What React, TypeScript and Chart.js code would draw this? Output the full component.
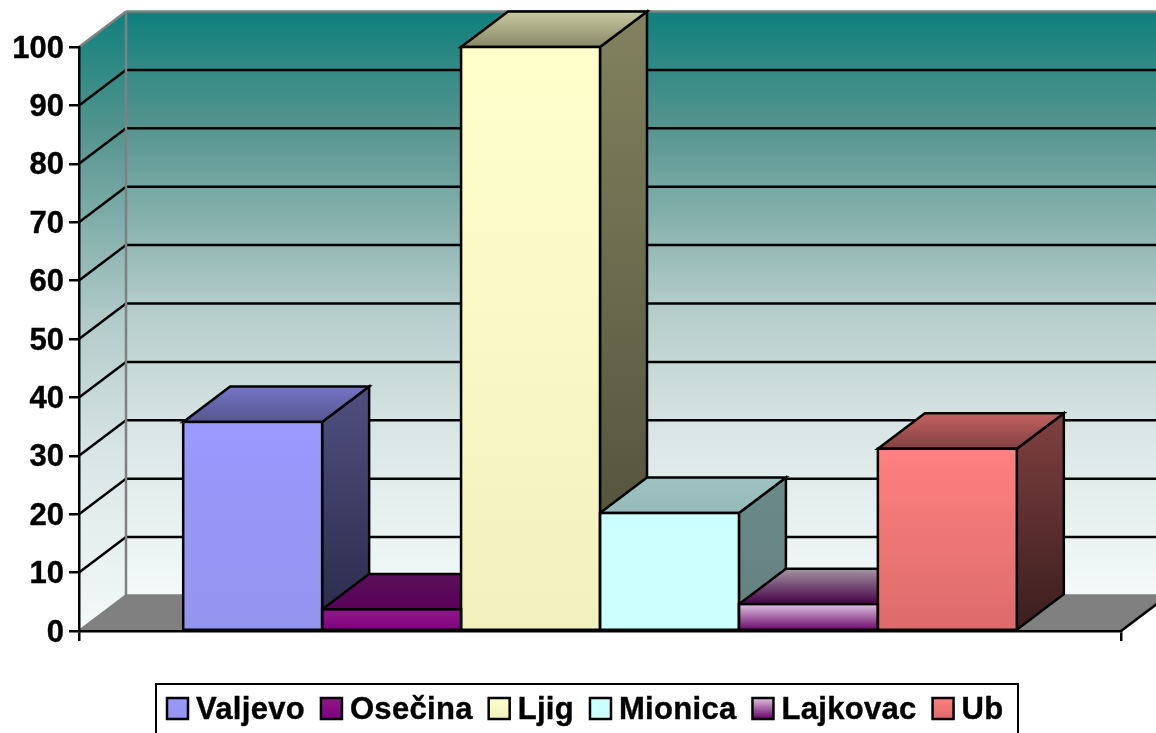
import React, { useEffect, useRef } from "react";
import { Chart, registerables } from "chart.js";

Chart.register(...registerables);

const categories = [""];
const seriesNames = ["Valjevo", "Osečina", "Ljig", "Mionica", "Lajkovac", "Ub"];
const valjevo = [35.8];
const osecina = [3.7];
const ljig = [100];
const mionica = [20.2];
const lajkovac = [4.6];
const ub = [31.2];
const seriesValues = [valjevo, osecina, ljig, mionica, lajkovac, ub];

const frontColors = [
  ["#9999ff", "#9494ee"],
  ["#8f1a87", "#800080"],
  ["#ffffcc", "#f3f0bf"],
  ["#ccffff", "#ccffff"],
  ["#dfc4df", "#660066"],
  ["#ff8080", "#dc6b6b"],
];
const sideColors = [
  ["#50507f", "#2a2a4a"],
  ["#400040", "#300030"],
  ["#82825f", "#4b4b38"],
  ["#6b8a8a", "#667f7f"],
  ["#6f5a6f", "#440044"],
  ["#804040", "#3a1e1e"],
];
const topColors = [
  ["#7575c4", "#565690"],
  ["#5a1058", "#5a005a"],
  ["#c8c8a0", "#888866"],
  ["#9ec2c2", "#96baba"],
  ["#a595a5", "#440044"],
  ["#c46262", "#804040"],
];
const wallStops: [number, string][] = [
  [0, "#0f807c"],
  [0.2, "#57958f"],
  [0.5, "#b2cbc9"],
  [0.72, "#d9e6e5"],
  [1, "#f3faf9"],
];

const FONT = '"Liberation Sans", Arial, sans-serif';
const depthX = 47;
const depthY = 35.5;
const LINE = 2.5;

function wallGradient(ctx: CanvasRenderingContext2D, y0: number, y1: number) {
  const g = ctx.createLinearGradient(0, y0, 0, y1);
  wallStops.forEach(([o, c]) => g.addColorStop(o, c));
  return g;
}

function vGradient(ctx: CanvasRenderingContext2D, y0: number, y1: number, c: string[]) {
  const g = ctx.createLinearGradient(0, y0, 0, y1);
  g.addColorStop(0, c[0]);
  g.addColorStop(1, c[1]);
  return g;
}

function poly(ctx: CanvasRenderingContext2D, pts: number[][], fill: any, stroke: string | null) {
  ctx.beginPath();
  pts.forEach((p, i) => (i ? ctx.lineTo(p[0], p[1]) : ctx.moveTo(p[0], p[1])));
  ctx.closePath();
  ctx.fillStyle = fill;
  ctx.fill();
  if (stroke) {
    ctx.strokeStyle = stroke;
    ctx.lineWidth = LINE;
    ctx.stroke();
  }
}

function line(ctx: CanvasRenderingContext2D, x0: number, y0: number, x1: number, y1: number, color: string) {
  ctx.beginPath();
  ctx.moveTo(x0, y0);
  ctx.lineTo(x1, y1);
  ctx.strokeStyle = color;
  ctx.lineWidth = LINE;
  ctx.stroke();
}

const walls3d = {
  id: "walls3d",
  beforeDraw(chart: any) {
    const { ctx, chartArea: a, scales } = chart;
    const y = scales.y;
    const bx = a.left + depthX;
    const rx = a.right + depthX;
    ctx.save();
    // back wall
    poly(ctx, [[bx, a.top - depthY], [rx, a.top - depthY], [rx, a.bottom - depthY], [bx, a.bottom - depthY]],
      wallGradient(ctx, a.top - depthY, a.bottom - depthY), null);
    // left wall
    poly(ctx, [[a.left, a.top], [bx, a.top - depthY], [bx, a.bottom - depthY], [a.left, a.bottom]],
      wallGradient(ctx, a.top - depthY, a.bottom), null);
    // floor
    poly(ctx, [[a.left, a.bottom], [bx, a.bottom - depthY], [rx, a.bottom - depthY], [a.right, a.bottom]], "#808080", null);
    // gridlines
    y.ticks.forEach((t: any) => {
      const py = y.getPixelForValue(t.value);
      const edge = t.value === 0 || t.value === 100;
      const col = edge ? "#808080" : "#000000";
      line(ctx, a.left, py, bx, py - depthY, col);
      line(ctx, bx, py - depthY, rx, py - depthY, col);
    });
    line(ctx, bx, a.top - depthY, bx, a.bottom - depthY, "#808080");
    line(ctx, a.right, a.bottom, rx, a.bottom - depthY, "#000000");
    ctx.restore();
  },
};

const bars3d = {
  id: "bars3d",
  beforeDatasetsDraw(chart: any) {
    const ctx = chart.ctx;
    ctx.save();
    ctx.lineJoin = "miter";
    seriesValues.forEach((_, i) => {
      const el = chart.getDatasetMeta(i).data[0];
      const { x, y, base, width } = el;
      const l = x - width / 2;
      const r = x + width / 2;
      poly(ctx, [[r, y], [r + depthX, y - depthY], [r + depthX, base - depthY], [r, base]],
        vGradient(ctx, y - depthY, base, sideColors[i]), "#000000");
      poly(ctx, [[l, y], [l + depthX, y - depthY], [r + depthX, y - depthY], [r, y]],
        vGradient(ctx, y - depthY, y, topColors[i]), "#000000");
    });
    ctx.restore();
  },
  afterDatasetsDraw(chart: any) {
    const ctx = chart.ctx;
    ctx.save();
    ctx.strokeStyle = "#000000";
    ctx.lineWidth = LINE;
    seriesValues.forEach((_, i) => {
      const { x, y, base, width } = chart.getDatasetMeta(i).data[0];
      ctx.strokeRect(x - width / 2, y, width, base - y);
    });
    ctx.restore();
  },
};

const boxedLegend = {
  id: "boxedLegend",
  afterDraw(chart: any) {
    const ctx = chart.ctx;
    const box = { x: 156, y: 684, w: 862, h: 60 };
    ctx.save();
    ctx.fillStyle = "#ffffff";
    ctx.fillRect(box.x, box.y, box.w, box.h);
    ctx.strokeStyle = "#000000";
    ctx.lineWidth = 2;
    ctx.strokeRect(box.x, box.y, box.w, box.h);
    ctx.font = `bold 31px ${FONT}`;
    ctx.letterSpacing = "0.3px";
    ctx.textBaseline = "alphabetic";
    ctx.textAlign = "left";
    let cx = 167;
    seriesNames.forEach((name, i) => {
      ctx.fillStyle = vGradient(ctx, 698, 719, frontColors[i]);
      ctx.fillRect(cx, 698, 21, 21);
      ctx.lineWidth = LINE;
      ctx.strokeRect(cx, 698, 21, 21);
      ctx.fillStyle = "#000000";
      ctx.lineWidth = 0.4;
      ctx.strokeText(name, cx + 29, 719);
      ctx.fillText(name, cx + 29, 719);
      cx += 29 + ctx.measureText(name).width + 16;
    });
    ctx.restore();
  },
};

export default function App() {
  const ref = useRef<HTMLCanvasElement>(null);
  useEffect(() => {
    const chart = new Chart(ref.current as HTMLCanvasElement, {
      type: "bar",
      data: {
        labels: categories,
        datasets: seriesNames.map((label, i) => ({
          label,
          data: seriesValues[i],
          borderWidth: 0,
          clip: false,
          backgroundColor: (c: any) => {
            const y = c.chart.scales.y;
            const fallback = frontColors[i][0];
            if (!y || typeof c.raw !== "number") return fallback;
            const y0 = y.getPixelForValue(c.raw);
            const y1 = y.getPixelForValue(0);
            if (!Number.isFinite(y0) || !Number.isFinite(y1)) return fallback;
            return vGradient(c.chart.ctx, y0, y1, frontColors[i]);
          },
        })),
      },
      options: {
        responsive: false,
        animation: false,
        layout: { padding: { left: 0, top: 47, right: 35, bottom: 92 } },
        datasets: { bar: { barPercentage: 1, categoryPercentage: 0.8 } },
        plugins: { legend: { display: false }, tooltip: { enabled: false }, title: { display: false } },
        scales: {
          x: {
            offset: true,
            afterFit: (s: any) => { s.height = 10; },
            border: { color: "#000000", width: LINE },
            grid: { drawOnChartArea: false, drawTicks: true, tickLength: 10, tickColor: "#000000", tickWidth: LINE, color: "#000000", lineWidth: LINE },
            ticks: { display: false },
          },
          y: {
            min: 0,
            max: 100,
            afterFit: (s: any) => { s.width = 79; },
            border: { color: "#000000", width: LINE },
            grid: { drawOnChartArea: false, tickLength: 10, tickColor: "#000000", tickWidth: LINE, color: "#000000", lineWidth: LINE },
            ticks: {
              stepSize: 10,
              padding: 5,
              labelOffset: 2,
              color: "#000000",
              textStrokeColor: "#000000",
              textStrokeWidth: 0.4,
              font: { family: FONT, size: 31, weight: "bold" },
            },
          },
        },
      },
      plugins: [walls3d, bars3d, boxedLegend],
    } as any);
    return () => chart.destroy();
  }, []);
  return (
    <canvas
      ref={ref}
      width={1156}
      height={733}
      style={{ position: "absolute", left: 0, top: 0, display: "block" }}
    />
  );
}
